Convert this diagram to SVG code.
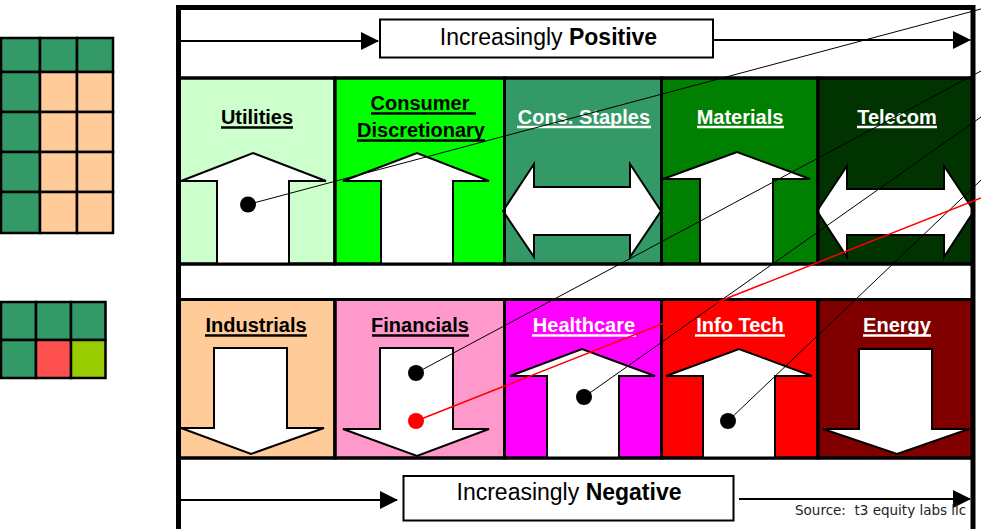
<svg xmlns="http://www.w3.org/2000/svg" width="981" height="529" viewBox="0 0 981 529">
<defs>
<marker id="ah" markerUnits="userSpaceOnUse" markerWidth="18" markerHeight="18" refX="17" refY="9" orient="auto">
<path d="M0,0 L18,9 L0,18 Z" fill="#000"/>
</marker>
<style>
.cell{stroke:#000;stroke-width:3}
.arr{fill:#fff;stroke:#000;stroke-width:2;stroke-linejoin:miter}
.lbl{font-family:"Liberation Sans",Arial,sans-serif;font-weight:bold;font-size:20px;text-anchor:middle}
.dk{fill:#000}
.wt{fill:#fff}
.ul{stroke-width:2.6}
.big{font-family:"Liberation Sans",Arial,sans-serif;font-size:23px;text-anchor:middle;fill:#000}
.box{fill:#fff;stroke:#000;stroke-width:2}
.mg{stroke:#000;stroke-width:2.5}
.conn{stroke:#000;stroke-width:1;fill:none}
.dot{fill:#000}
</style>
</defs>
<rect width="981" height="529" fill="#fff"/>

<g id="legend-grid-top">
<rect x="1" y="38" width="39" height="34" fill="#339966" class="mg"/>
<rect x="40" y="38" width="37" height="34" fill="#339966" class="mg"/>
<rect x="77" y="38" width="36" height="34" fill="#339966" class="mg"/>
<rect x="1" y="72" width="39" height="40" fill="#339966" class="mg"/>
<rect x="40" y="72" width="37" height="40" fill="#FFCC99" class="mg"/>
<rect x="77" y="72" width="36" height="40" fill="#FFCC99" class="mg"/>
<rect x="1" y="112" width="39" height="40" fill="#339966" class="mg"/>
<rect x="40" y="112" width="37" height="40" fill="#FFCC99" class="mg"/>
<rect x="77" y="112" width="36" height="40" fill="#FFCC99" class="mg"/>
<rect x="1" y="152" width="39" height="40" fill="#339966" class="mg"/>
<rect x="40" y="152" width="37" height="40" fill="#FFCC99" class="mg"/>
<rect x="77" y="152" width="36" height="40" fill="#FFCC99" class="mg"/>
<rect x="1" y="192" width="39" height="41" fill="#339966" class="mg"/>
<rect x="40" y="192" width="37" height="41" fill="#FFCC99" class="mg"/>
<rect x="77" y="192" width="36" height="41" fill="#FFCC99" class="mg"/>
</g>

<g id="legend-grid-bottom">
<rect x="1" y="302" width="35" height="38" fill="#339966" class="mg"/>
<rect x="36" y="302" width="35" height="38" fill="#339966" class="mg"/>
<rect x="71" y="302" width="34.5" height="38" fill="#339966" class="mg"/>
<rect x="1" y="340" width="35" height="38" fill="#339966" class="mg"/>
<rect x="36" y="340" width="35" height="38" fill="#FF5050" class="mg"/>
<rect x="71" y="340" width="34.5" height="38" fill="#99CC00" class="mg"/>
</g>

<g id="utilities">
<rect x="179" y="78" width="156" height="186" fill="#CCFFCC" class="cell"/>
<polygon class="arr" points="217,264 217,181 181,181 253,153 326,181 289,181 289,264"/>
<text class="lbl dk" x="257" y="124">Utilities</text>
<line class="ul" x1="221" y1="127.5" x2="293" y2="127.5" stroke="#000"/>
</g>

<g id="consumer-discretionary">
<rect x="335" y="78" width="169.5" height="186" fill="#00FF00" class="cell"/>
<polygon class="arr" points="381,264 381,181 343,181 417,153 489,181 453,181 453,264"/>
<text class="lbl dk" x="420" y="110">Consumer</text>
<line class="ul" x1="371" y1="113.5" x2="476" y2="113.5" stroke="#000"/>
<text class="lbl dk" x="421" y="137">Discretionary</text>
<line class="ul" x1="357" y1="140.5" x2="485" y2="140.5" stroke="#000"/>
</g>

<g id="cons-staples">
<rect x="504.5" y="78" width="157" height="186" fill="#339966" class="cell"/>
<polygon class="arr" points="503,211 534,164 534,187 630,187 630,164 661,211 630,257 630,235 534,235 534,257"/>
<text class="lbl wt" x="584" y="124">Cons. Staples</text>
<line class="ul" x1="517" y1="127" x2="651" y2="127" stroke="#fff"/>
</g>

<g id="materials">
<rect x="661.5" y="78" width="156.5" height="186" fill="#008000" class="cell"/>
<polygon class="arr" points="700,264 700,179 663,179 737,152 810,179 773,179 773,264"/>
<text class="lbl wt" x="740" y="124">Materials</text>
<line class="ul" x1="697" y1="127" x2="784" y2="127" stroke="#fff"/>
</g>

<g id="telecom">
<rect x="818" y="78" width="155" height="186" fill="#003300" class="cell"/>
<polygon class="arr" points="817,211 847,166 847,189 944,189 944,166 974,211 944,257 944,235 847,235 847,257"/>
<text class="lbl wt" x="897" y="124">Telecom</text>
<line class="ul" x1="857" y1="127" x2="937" y2="127" stroke="#fff"/>
</g>

<g id="industrials">
<rect x="179" y="299.5" width="156" height="158.5" fill="#FFCC99" class="cell"/>
<polygon class="arr" points="214,348 287,348 287,428 324,428 251,454 181,428 214,428"/>
<text class="lbl dk" x="256" y="332">Industrials</text>
<line class="ul" x1="205" y1="335.5" x2="307" y2="335.5" stroke="#000"/>
</g>

<g id="financials">
<rect x="335" y="299.5" width="169.5" height="158.5" fill="#FF99CC" class="cell"/>
<polygon class="arr" points="380,348 453,348 453,429 489,429 417,456 343,429 380,429"/>
<text class="lbl dk" x="420" y="332">Financials</text>
<line class="ul" x1="372" y1="335.5" x2="469" y2="335.5" stroke="#000"/>
</g>

<g id="healthcare">
<rect x="504.5" y="299.5" width="157" height="158.5" fill="#FF00FF" class="cell"/>
<polygon class="arr" points="547,458 547,376 510,376 582,349 655,376 619,376 619,458"/>
<text class="lbl wt" x="584" y="332">Healthcare</text>
<line class="ul" x1="532" y1="335.5" x2="636" y2="335.5" stroke="#fff"/>
</g>

<g id="info-tech">
<rect x="661.5" y="299.5" width="156.5" height="158.5" fill="#FF0000" class="cell"/>
<polygon class="arr" points="703,458 703,376 666,376 739,349 812,376 775,376 775,458"/>
<text class="lbl wt" x="740" y="332">Info Tech</text>
<line class="ul" x1="695" y1="335.5" x2="785" y2="335.5" stroke="#fff"/>
</g>

<g id="energy">
<rect x="818" y="299.5" width="155" height="158.5" fill="#800000" class="cell"/>
<polygon class="arr" points="859,349 932,349 932,429 969,429 897,454 823,429 859,429"/>
<text class="lbl wt" x="897" y="332">Energy</text>
<line class="ul" x1="863" y1="335.5" x2="931" y2="335.5" stroke="#fff"/>
</g>

<g id="cell-borders" fill="none" stroke="#000" stroke-width="3">
<rect x="179" y="78" width="794" height="186"/>
<line x1="335" y1="78" x2="335" y2="264"/>
<line x1="504.5" y1="78" x2="504.5" y2="264"/>
<line x1="661.5" y1="78" x2="661.5" y2="264"/>
<line x1="818" y1="78" x2="818" y2="264"/>
<rect x="179" y="299.5" width="794" height="158.5"/>
<line x1="335" y1="299.5" x2="335" y2="458"/>
<line x1="504.5" y1="299.5" x2="504.5" y2="458"/>
<line x1="661.5" y1="299.5" x2="661.5" y2="458"/>
<line x1="818" y1="299.5" x2="818" y2="458"/>
</g>

<g id="frame">
<rect x="178.5" y="7.5" width="794.5" height="600" fill="none" stroke="#000" stroke-width="5"/>
</g>

<g id="positive-scale">
<line x1="181" y1="41" x2="378" y2="41" stroke="#000" stroke-width="2" marker-end="url(#ah)"/>
<rect class="box" x="380" y="19.5" width="333" height="38"/>
<text class="big" x="548.5" y="44.5">Increasingly <tspan font-weight="bold">Positive</tspan></text>
<line x1="713" y1="40" x2="970" y2="40" stroke="#000" stroke-width="2" marker-end="url(#ah)"/>
</g>

<g id="negative-scale">
<line x1="181" y1="500" x2="397" y2="500" stroke="#000" stroke-width="2" marker-end="url(#ah)"/>
<rect class="box" x="403.5" y="476" width="330" height="44.5"/>
<text class="big" x="569" y="500">Increasingly <tspan font-weight="bold">Negative</tspan></text>
<line x1="739" y1="499" x2="970" y2="499" stroke="#000" stroke-width="2" marker-end="url(#ah)"/>
<text x="795" y="515" font-family="'DejaVu Sans',Verdana,sans-serif" font-size="13.5" fill="#222" style="white-space:pre">Source:  t3 equity labs llc</text>
</g>

<g id="connectors">
<line class="conn" x1="248" y1="204.5" x2="981" y2="9"/>
<line class="conn" x1="416" y1="373" x2="981" y2="71"/>
<line class="conn" x1="584" y1="397" x2="981" y2="117"/>
<line class="conn" x1="728" y1="421" x2="981" y2="180"/>
<line x1="416" y1="421" x2="981" y2="198" stroke="#FF0000" stroke-width="1.5"/>
<circle class="dot" cx="248" cy="204.5" r="8"/>
<circle class="dot" cx="416" cy="373" r="8"/>
<circle class="dot" cx="584" cy="397" r="8"/>
<circle class="dot" cx="728" cy="421" r="8"/>
<circle cx="416" cy="421" r="8" fill="#FF0000"/>
</g>
</svg>
